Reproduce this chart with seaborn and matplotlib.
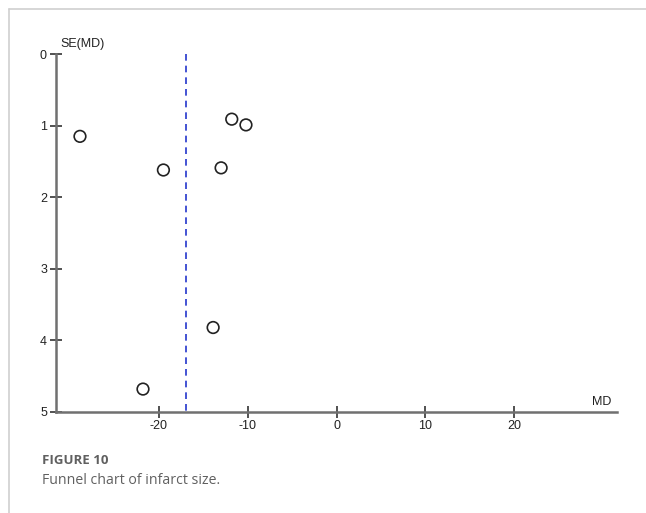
import matplotlib
matplotlib.use("Agg")
import matplotlib.pyplot as plt
import seaborn as sns
import pandas as pd
from matplotlib.lines import Line2D

# Study estimates: mean difference and its standard error
md = [-28.9, -19.5, -11.8, -10.2, -13.0, -13.9, -21.8]
se_md = [1.15, 1.62, 0.91, 0.99, 1.59, 3.82, 4.68]
pooled_md = -16.9

x_ticks = [-20, -10, 0, 10, 20]
y_ticks = [0, 1, 2, 3, 4, 5]

df = pd.DataFrame({"MD": md, "SE(MD)": se_md})

sns.set_theme(style="white")
plt.rcParams["font.family"] = ["Liberation Sans", "DejaVu Sans"]

fig = plt.figure(figsize=(6.46, 5.13), dpi=100)
ax = fig.add_axes([0.0867, 0.1969, 0.8684, 0.6978])

sns.scatterplot(data=df, x="MD", y="SE(MD)", ax=ax, s=70, marker="o",
                facecolor="none", edgecolor="#222222", linewidth=1.2, zorder=3)

ax.plot([pooled_md, pooled_md], [0, 5], color="#2436cc", lw=1.2,
        linestyle=(0, (4, 3)), zorder=2)

ax.set_xlim(-31.6, 31.6)
ax.set_ylim(5, 0)
ax.set_xticks(x_ticks)
ax.set_yticks(y_ticks)
ax.set_xticklabels([str(t) for t in x_ticks])
ax.set_yticklabels([str(t) for t in y_ticks])
ax.set_xlabel("")
ax.set_ylabel("")

for side in ("top", "right"):
    ax.spines[side].set_visible(False)
for side in ("left", "bottom"):
    ax.spines[side].set_color("#707070")
    ax.spines[side].set_linewidth(1.8)

ax.tick_params(axis="both", which="major", bottom=True, left=True,
               direction="inout", length=9, width=1.1,
               color="#222222", labelsize=9, labelcolor="#222222")
ax.tick_params(axis="y", pad=2)
ax.tick_params(axis="x", pad=1)

ax.text(0.007, 1.01, "SE(MD)", transform=ax.transAxes, fontsize=9,
        color="#222222", ha="left", va="bottom")
ax.text(0.99, 0.012, "MD", transform=ax.transAxes, fontsize=9,
        color="#222222", ha="right", va="bottom")

# Card frame lines along the top and left edges
fig.add_artist(Line2D([9 / 646, 1.0], [1 - 9 / 513, 1 - 9 / 513],
                      transform=fig.transFigure, color="#cfcfcf", lw=1.2))
fig.add_artist(Line2D([9 / 646, 9 / 646], [0, 1 - 9 / 513],
                      transform=fig.transFigure, color="#cfcfcf", lw=1.2))

fig.text(42 / 646, 1 - 460 / 513, "FIGURE 10", fontsize=9.5, fontweight="bold",
         color="#606060", family=["Open Sans", "DejaVu Sans"],
         ha="left", va="center")
fig.text(42 / 646, 1 - 481 / 513, "Funnel chart of infarct size.", fontsize=10.2,
         color="#606060", family=["Open Sans", "DejaVu Sans"],
         ha="left", va="center")

fig.savefig("out.png", dpi=100)
